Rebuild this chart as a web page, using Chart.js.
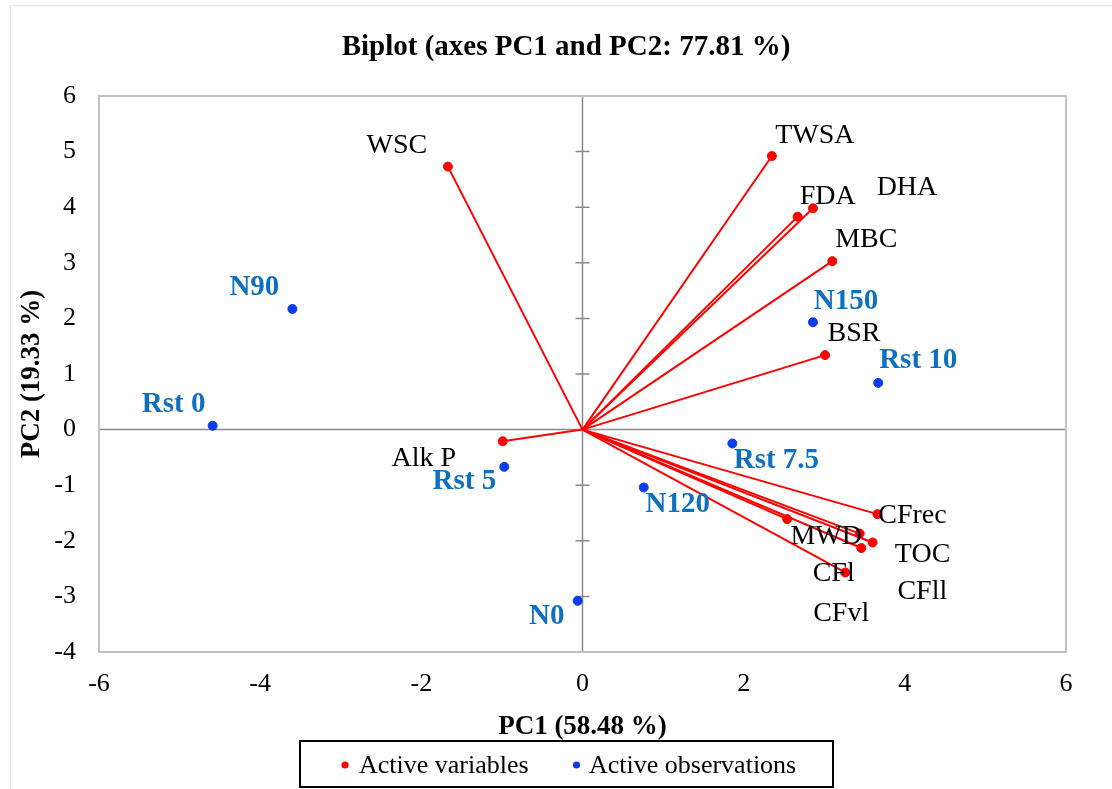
<!DOCTYPE html>
<html>
<head>
<meta charset="utf-8">
<title>Biplot</title>
<script src="https://cdn.jsdelivr.net/npm/chart.js@4.4.1/dist/chart.umd.min.js"></script>
<style>
  html, body { margin: 0; padding: 0; background: #ffffff; }
  #wrap { position: relative; width: 1112px; height: 789px; }
</style>
</head>
<body>
<div id="wrap"><canvas id="biplot" width="1112" height="789"></canvas></div>
<script>
// Variable loadings (arrows from the origin)
const variableNames = ['WSC', 'TWSA', 'FDA', 'DHA', 'MBC', 'BSR', 'Alk P', 'CFrec', 'MWD', 'CFl', 'TOC', 'CFll', 'CFvl'];
const variablePC1 = [-1.67, 2.35, 2.67, 2.86, 3.10, 3.01, -0.99, 3.66, 2.54, 3.44, 3.60, 3.46, 3.26];
const variablePC2 = [4.73, 4.92, 3.83, 3.98, 3.03, 1.34, -0.21, -1.52, -1.61, -1.87, -2.03, -2.13, -2.57];

// Observation scores
const observationNames = ['N90', 'Rst 0', 'Rst 5', 'N0', 'N120', 'Rst 7.5', 'N150', 'Rst 10'];
const observationPC1 = [-3.60, -4.59, -0.97, -0.06, 0.76, 1.86, 2.86, 3.67];
const observationPC2 = [2.17, 0.07, -0.67, -3.08, -1.04, -0.25, 1.93, 0.84];

// Axis ticks
const xTickValues = [-6, -4, -2, 0, 2, 4, 6];
const yTickValues = [-4, -3, -2, -1, 0, 1, 2, 3, 4, 5, 6];

const SERIF = "'Liberation Serif', 'Times New Roman', serif";
const RED = '#ff0000';
const BLUE_DOT = '#0a3cf0';
const BLUE_TEXT = '#0f70c0';

// Text placement of each point label: [dx, dy] from the marker to the label centre, in pixels
const variableLabelOffsets = [
  [-51, -23], [43, -22], [30, -22], [94, -23], [34, -23], [29, -23], [-79, 15],
  [35, 0], [39, 16], [-26, 38], [50, 10], [61, 42], [-4, 39]
];
const observationLabelOffsets = [
  [-38, -24], [-39, -23], [-40, 13], [-31, 14], [34, 15], [44, 15], [33, -23], [40, -24]
];

const datasets = [];
// Markers first so they are painted above the arrows
datasets.push({
  label: 'Active variables',
  data: variablePC1.map((x, i) => ({ x: x, y: variablePC2[i] })),
  backgroundColor: RED, borderColor: RED,
  pointRadius: 4.5, pointHoverRadius: 4.5, showLine: false
});
datasets.push({
  label: 'Active observations',
  data: observationPC1.map((x, i) => ({ x: x, y: observationPC2[i] })),
  backgroundColor: BLUE_DOT, borderColor: BLUE_DOT,
  pointRadius: 4.5, pointHoverRadius: 4.5, showLine: false
});
// One segment from the origin to each variable
variablePC1.forEach((x, i) => {
  datasets.push({
    label: 'arrow ' + variableNames[i],
    data: [{ x: 0, y: 0 }, { x: x, y: variablePC2[i] }],
    showLine: true, borderColor: RED, borderWidth: 2,
    pointRadius: 0, pointHoverRadius: 0, fill: false
  });
});

// Frame, plot border, zero axes with crossing ticks, title and legend box
const decorations = {
  id: 'decorations',
  beforeDatasetsDraw(chart) {
    const { ctx, chartArea: a, scales } = chart;
    const x0 = scales.x.getPixelForValue(0);
    const y0 = scales.y.getPixelForValue(0);
    ctx.save();
    ctx.strokeStyle = '#8a8a8a';
    ctx.lineWidth = 1.5;
    ctx.beginPath();
    ctx.moveTo(a.left, y0); ctx.lineTo(a.right, y0);
    ctx.moveTo(x0, a.top); ctx.lineTo(x0, a.bottom);
    yTickValues.forEach(v => {
      const py = scales.y.getPixelForValue(v);
      ctx.moveTo(x0 - 7, py); ctx.lineTo(x0 + 7, py);
    });
    ctx.stroke();
    ctx.restore();
  },
  afterDraw(chart) {
    const { ctx, chartArea: a } = chart;
    ctx.save();
    // outer chart frame
    ctx.strokeStyle = '#e6e6e6';
    ctx.lineWidth = 1.5;
    ctx.strokeRect(10.5, 5.5, 1200, 900);
    // plot area border
    ctx.strokeStyle = '#c2c2c2';
    ctx.lineWidth = 2;
    ctx.strokeRect(a.left, a.top, a.right - a.left, a.bottom - a.top);
    // title
    ctx.fillStyle = '#000';
    ctx.font = 'bold 29px ' + SERIF;
    ctx.textAlign = 'center';
    ctx.textBaseline = 'alphabetic';
    ctx.fillText('Biplot (axes PC1 and PC2: 77.81 %)', 566, 55);
    // legend
    ctx.strokeStyle = '#000';
    ctx.lineWidth = 2;
    ctx.strokeRect(300, 741, 533, 46);
    const items = [
      { text: chart.data.datasets[0].label, color: RED, dotX: 345, textX: 359 },
      { text: chart.data.datasets[1].label, color: BLUE_DOT, dotX: 576.5, textX: 589 }
    ];
    ctx.font = '26px ' + SERIF;
    ctx.textAlign = 'left';
    items.forEach(it => {
      ctx.fillStyle = it.color;
      ctx.beginPath();
      ctx.arc(it.dotX, 765, 3.6, 0, Math.PI * 2);
      ctx.fill();
      ctx.fillStyle = '#000';
      ctx.fillText(it.text, it.textX, 773);
    });
    ctx.restore();
  }
};

// Names next to each marker
const pointLabels = {
  id: 'pointLabels',
  afterDatasetsDraw(chart) {
    const { ctx } = chart;
    const groups = [
      { meta: chart.getDatasetMeta(0), names: variableNames, offsets: variableLabelOffsets,
        font: '28px ' + SERIF, size: 28, color: '#000' },
      { meta: chart.getDatasetMeta(1), names: observationNames, offsets: observationLabelOffsets,
        font: 'bold 29px ' + SERIF, size: 29, color: BLUE_TEXT }
    ];
    ctx.save();
    ctx.textAlign = 'center';
    ctx.textBaseline = 'alphabetic';
    groups.forEach(g => {
      ctx.font = g.font;
      ctx.fillStyle = g.color;
      g.meta.data.forEach((pt, i) => {
        const [dx, dy] = g.offsets[i];
        ctx.fillText(g.names[i], pt.x + dx, pt.y + dy + g.size * 0.33);
      });
    });
    ctx.restore();
  }
};

new Chart(document.getElementById('biplot'), {
  type: 'scatter',
  data: { datasets: datasets },
  options: {
    responsive: false,
    animation: false,
    events: [],
    layout: { padding: { top: 96, right: 46, bottom: 46, left: 0 } },
    plugins: {
      legend: { display: false },
      title: { display: false },
      tooltip: { enabled: false }
    },
    scales: {
      x: {
        type: 'linear', position: 'bottom',
        min: xTickValues[0], max: xTickValues[xTickValues.length - 1],
        grid: { display: false, drawTicks: false, tickLength: 0 },
        border: { display: false },
        afterBuildTicks: s => { s.ticks = xTickValues.map(v => ({ value: v })); },
        ticks: { font: { family: SERIF, size: 26 }, color: '#000', padding: 17, maxRotation: 0, autoSkip: false },
        title: { display: true, text: 'PC1 (58.48 %)', color: '#000', padding: 0,
                 font: { family: SERIF, size: 27, weight: 'bold' } },
        afterFit: s => { s.height = 91; }
      },
      y: {
        type: 'linear', position: 'left',
        min: yTickValues[0], max: yTickValues[yTickValues.length - 1],
        grid: { display: false, drawTicks: false, tickLength: 0 },
        border: { display: false },
        afterBuildTicks: s => { s.ticks = yTickValues.map(v => ({ value: v })); },
        ticks: { font: { family: SERIF, size: 26 }, color: '#000', padding: 23, autoSkip: false },
        title: { display: true, text: 'PC2 (19.33 %)', color: '#000', padding: 16,
                 font: { family: SERIF, size: 27, weight: 'bold' } },
        afterFit: s => { s.width = 99; }
      }
    }
  },
  plugins: [decorations, pointLabels]
});
</script>
</body>
</html>
